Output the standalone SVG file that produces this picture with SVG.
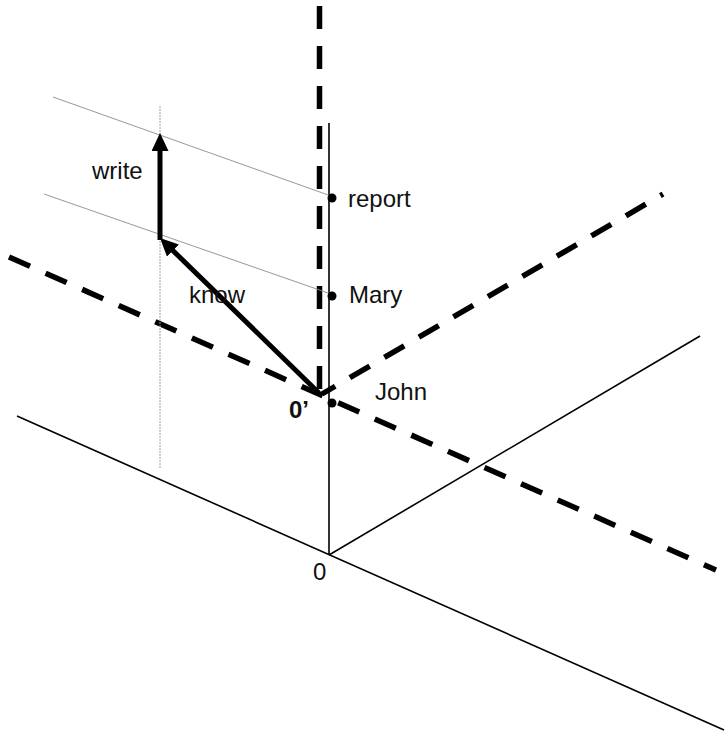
<svg xmlns="http://www.w3.org/2000/svg" width="726" height="738" viewBox="0 0 726 738">
<style>
.axis{stroke:#000;stroke-width:1.6;fill:none}
.dash{stroke:#000;stroke-width:5.5;fill:none;stroke-dasharray:23 17}
.guide{stroke:#8c8c8c;stroke-width:0.9;fill:none}
.gdot{stroke:#a0a0a0;stroke-width:1;fill:none;stroke-dasharray:2 1}
.vec{stroke:#000;stroke-width:5;fill:none}
.lbl{font-family:"Liberation Sans",Arial,sans-serif;font-size:24px;fill:#111}
.pt{fill:#000}
</style>
<defs>
<marker id="ah" markerUnits="userSpaceOnUse" markerWidth="18" markerHeight="17" refX="8" refY="8.5" orient="auto">
<path d="M0,0 L18,8.5 L0,17 z" fill="#000"/>
</marker>
</defs>
<g id="axes">
<line class="axis" x1="329" y1="123" x2="329" y2="555"/>
<line class="axis" x1="17" y1="416" x2="724" y2="730"/>
<line class="axis" x1="329" y1="555" x2="700" y2="336"/>
</g>
<g id="dashed-axes">
<line class="dash" x1="319.5" y1="6" x2="319.5" y2="395"/>
<line class="dash" x1="9" y1="257" x2="716" y2="570"/>
<line class="dash" x1="663" y1="194" x2="322" y2="394" style="stroke-dashoffset:20"/>
</g>
<g id="guides">
<line class="guide" x1="53" y1="97" x2="331" y2="196"/>
<line class="guide" x1="44" y1="194" x2="331" y2="294"/>
<line class="gdot" x1="160" y1="106" x2="160" y2="469"/>
</g>
<g id="report">
<circle class="pt" cx="332" cy="198" r="4.5"/>
<text class="lbl" x="348" y="207">report</text>
</g>
<g id="mary">
<circle class="pt" cx="332" cy="296" r="4.5"/>
<text class="lbl" x="349" y="303">Mary</text>
</g>
<g id="john">
<circle class="pt" cx="332" cy="403" r="4.5"/>
<text class="lbl" x="375" y="400">John</text>
</g>
<g id="origin-prime">
<text class="lbl" x="289" y="418" style="font-weight:bold">0’</text>
</g>
<g id="origin">
<text class="lbl" x="313" y="580">0</text>
</g>
<g id="connectors">
<line class="vec" x1="319" y1="393" x2="167.2" y2="245" marker-end="url(#ah)"/>
<line class="vec" x1="160" y1="240" x2="160" y2="143" marker-end="url(#ah)"/>
<text class="lbl" x="92" y="179">write</text>
<text class="lbl" x="189" y="303">know</text>
</g>
</svg>
